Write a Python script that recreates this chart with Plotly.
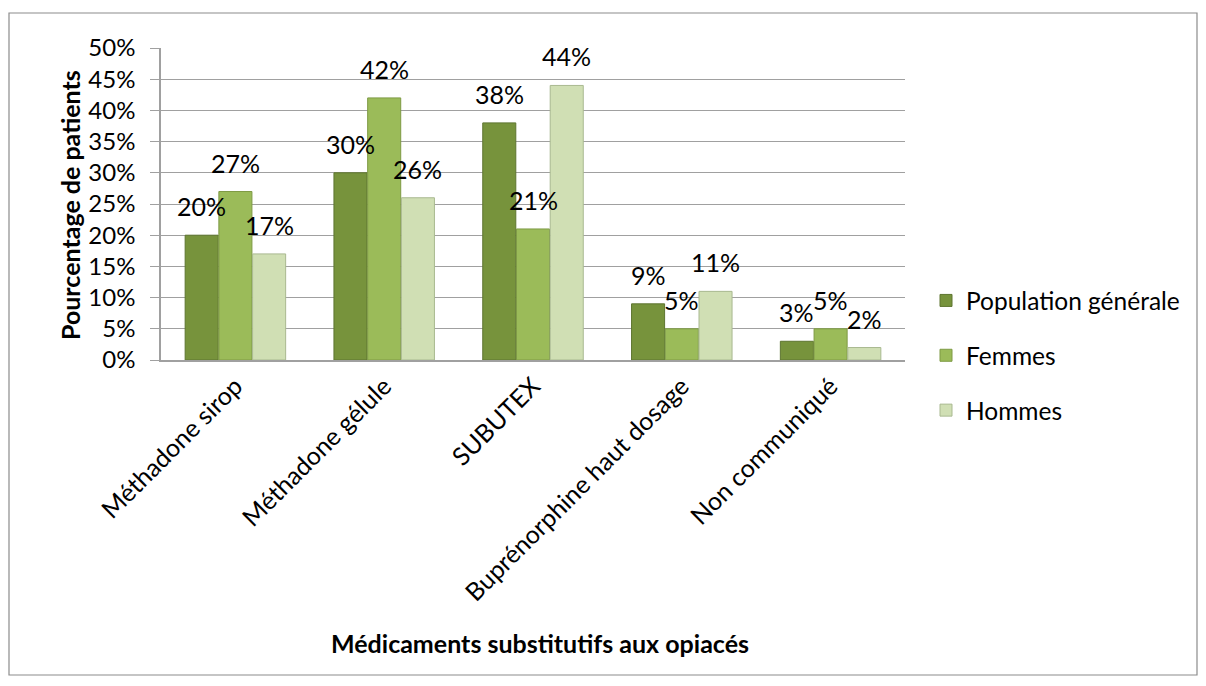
import plotly.graph_objects as go

categories = ["Méthadone sirop", "Méthadone gélule", "SUBUTEX",
              "Buprénorphine haut dosage", "Non communiqué"]
series_names = ["Population générale", "Femmes", "Hommes"]
pop_values = [20, 30, 38, 9, 3]
femmes_values = [27, 42, 21, 5, 5]
hommes_values = [17, 26, 44, 11, 2]
y_ticks = [0, 5, 10, 15, 20, 25, 30, 35, 40, 45, 50]
y_tick_labels = [f"{v}%" for v in y_ticks]

colors = ["#77933C", "#9BBB59", "#D0DFB4"]
lines = ["#5E7530", "#7E9A44", "#A9B990"]

OFF = 8  # page body margin
W, H = 1206 - 2 * OFF, 686 - 2 * OFF
L, R, T, B = 161 - OFF, 905 - OFF, 48 - OFF, 360 - OFF
FONT = "Lato, Carlito, Calibri, sans-serif"
BARGAP, BARGROUPGAP = 0.32, 0.02

def px2paper_x(p):
    return (p - OFF - L) / (R - L)

def px2paper_y(p):
    return (B - (p - OFF)) / (B - T)

def px2cont_x(p):
    return (p - OFF) / W

def px2cont_y(p):
    return 1 - (p - OFF) / H

all_series = [pop_values, femmes_values, hommes_values]
n_series = len(all_series)
cat_px = (R - L) / len(categories)
slot_px = cat_px * (1 - BARGAP) / n_series

fig = go.Figure()
label_annotations = []
for i, (name, vals) in enumerate(zip(series_names, all_series)):
    fig.add_trace(go.Bar(
        x=categories, y=vals, name=name,
        marker=dict(color=colors[i], line=dict(color=lines[i], width=1)),
        cliponaxis=False, legendgroup=name,
    ))
    xshift = (i - (n_series - 1) / 2) * slot_px
    for c, v in zip(categories, vals):
        label_annotations.append(dict(
            x=c, y=v, xref="x", yref="y", text=f"{v}%", showarrow=False,
            xanchor="center", yanchor="bottom", xshift=xshift, yshift=12,
            font=dict(size=25, family=FONT, color="#000000"),
        ))

fig.update_layout(
    width=W, height=H,
    margin=dict(l=L, r=W - R, t=T, b=H - B, pad=0, autoexpand=False),
    paper_bgcolor="white", plot_bgcolor="white",
    barmode="group", bargap=BARGAP, bargroupgap=BARGROUPGAP,
    font=dict(family=FONT, size=24, color="#000000"),
    showlegend=True,
    legend=dict(xref="container", yref="container",
                x=px2cont_x(926), y=px2cont_y(278), xanchor="left", yanchor="top",
                font=dict(size=24.5, family=FONT), tracegroupgap=20,
                bgcolor="rgba(0,0,0,0)", itemwidth=30),
    xaxis=dict(
        tickangle=-45, tickfont=dict(size=25, family=FONT),
        showline=True, linecolor="#A0A0A0", linewidth=1.5,
        ticks="", showgrid=False,
    ),
    yaxis=dict(
        range=[0, 50], tickvals=y_ticks, ticktext=y_tick_labels,
        tickfont=dict(size=24, family=FONT),
        showgrid=True, gridcolor="#A0A0A0", gridwidth=1.2,
        showline=True, linecolor="#A0A0A0", linewidth=1.5,
        ticks="outside", ticklen=9, tickcolor="#A0A0A0", tickwidth=1.2,
        ticklabelstandoff=10,
        zeroline=False,
    ),
    annotations=label_annotations + [
        dict(text="<b>Médicaments substitutifs aux opiacés</b>", xref="paper", yref="paper",
             x=px2paper_x(540), y=px2paper_y(643), xanchor="center", yanchor="middle",
             showarrow=False, font=dict(size=25, family=FONT)),
        dict(text="<b>Pourcentage de patients</b>", xref="paper", yref="paper",
             x=px2paper_x(70), y=px2paper_y(205), xanchor="center", yanchor="middle",
             textangle=-90, showarrow=False, font=dict(size=25, family=FONT)),
    ],
    shapes=[dict(type="rect", xref="paper", yref="paper",
                 x0=px2paper_x(9), x1=px2paper_x(1197),
                 y0=px2paper_y(675), y1=px2paper_y(13),
                 line=dict(color="#8C8C8C", width=1.2), fillcolor="rgba(0,0,0,0)",
                 layer="below")],
)

fig.write_html("out.html")
